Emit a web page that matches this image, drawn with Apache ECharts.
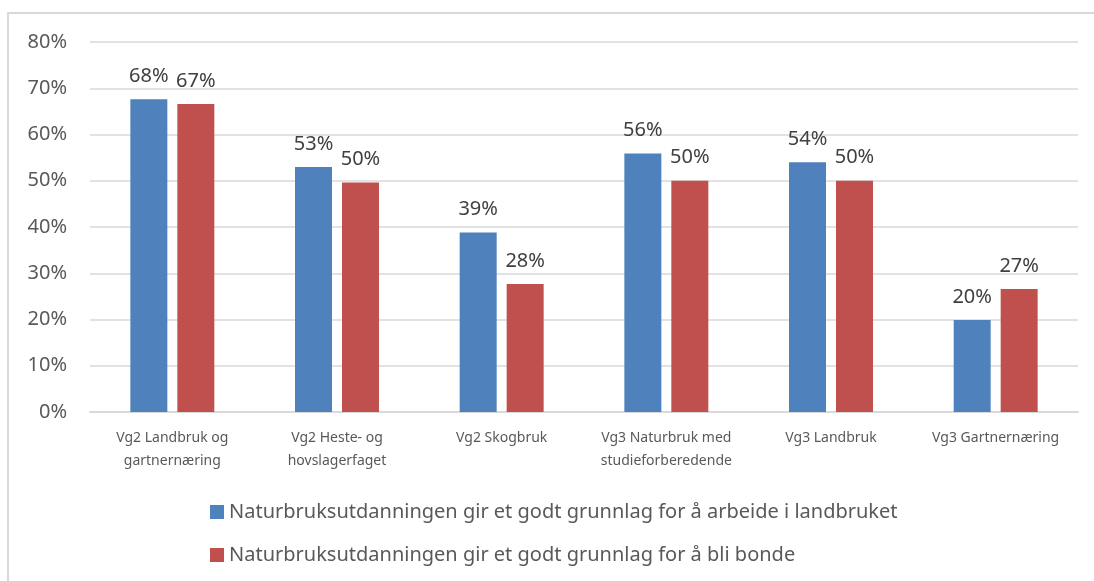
<!DOCTYPE html>
<html>
<head>
<meta charset="utf-8">
<script src="https://cdn.jsdelivr.net/npm/echarts@6/dist/echarts.min.js"></script>
<style>
  html, body { margin: 0; padding: 0; background: #fff; }
  #chart { width: 1094px; height: 581px; }
</style>
</head>
<body>
<div id="chart"></div>
<script>
// kategorier (x-akse)
const categories = [
  "Vg2 Landbruk og\ngartnernæring",
  "Vg2 Heste- og\nhovslagerfaget",
  "Vg2 Skogbruk",
  "Vg3 Naturbruk med\nstudieforberedende",
  "Vg3 Landbruk",
  "Vg3 Gartnernæring"
];
const seriesNames = [
  "Naturbruksutdanningen gir et godt grunnlag for å arbeide i landbruket",
  "Naturbruksutdanningen gir et godt grunnlag for å bli bonde"
];
// verdier i prosent, lest av figuren
const arbeideValues = [67.6, 53.0, 38.8, 55.9, 54.0, 19.9];
const bondeValues = [66.6, 49.6, 27.7, 50.0, 50.0, 26.6];
const yTicks = [0, 10, 20, 30, 40, 50, 60, 70, 80];

const textColor = "#595959";
const font = "Noto Sans";

const chart = echarts.init(document.getElementById("chart"));

const barLabel = {
  show: true,
  position: "top",
  distance: 13,
  color: "#404040",
  fontFamily: font,
  fontSize: 20,
  formatter: (p) => Math.round(p.value) + "%"
};

const option = {
  animation: false,
  backgroundColor: "#fff",
  // tynn grå ramme rundt diagrammet
  graphic: [{
    type: "rect",
    shape: { x: 8, y: 13, width: 1200, height: 700 },
    style: { fill: null, stroke: "#D9D9D9", lineWidth: 2 },
    silent: true
  }],
  legend: {
    orient: "vertical",
    left: 205,
    top: 497,
    itemWidth: 14,
    itemHeight: 14,
    itemGap: 23,
    icon: "rect",
    textStyle: {
      color: textColor,
      fontFamily: font,
      fontSize: 20,
      lineHeight: 20
    },
    data: seriesNames
  },
  grid: {
    left: 90,
    right: 16,
    top: 42,
    bottom: 169
  },
  xAxis: {
    type: "category",
    data: categories,
    axisLine: { lineStyle: { color: "#D9D9D9", width: 2 } },
    axisTick: { show: false },
    axisLabel: {
      color: textColor,
      fontFamily: font,
      fontSize: 14,
      lineHeight: 23,
      margin: 15,
      interval: 0
    }
  },
  yAxis: {
    type: "value",
    min: yTicks[0],
    max: yTicks[yTicks.length - 1],
    interval: 10,
    axisLine: { show: false },
    axisTick: { show: false },
    splitLine: { lineStyle: { color: "#D9D9D9", width: 1.5 } },
    axisLabel: {
      color: textColor,
      fontFamily: font,
      fontSize: 20,
      margin: 23,
      formatter: (v) => v + "%"
    }
  },
  series: [
    {
      name: seriesNames[0],
      type: "bar",
      data: arbeideValues,
      barGap: "27%",
      barCategoryGap: "49%",
      itemStyle: { color: "#4F81BD" },
      label: barLabel
    },
    {
      name: seriesNames[1],
      type: "bar",
      data: bondeValues,
      itemStyle: { color: "#C0504D" },
      label: barLabel
    }
  ]
};

chart.setOption(option);
</script>
</body>
</html>
